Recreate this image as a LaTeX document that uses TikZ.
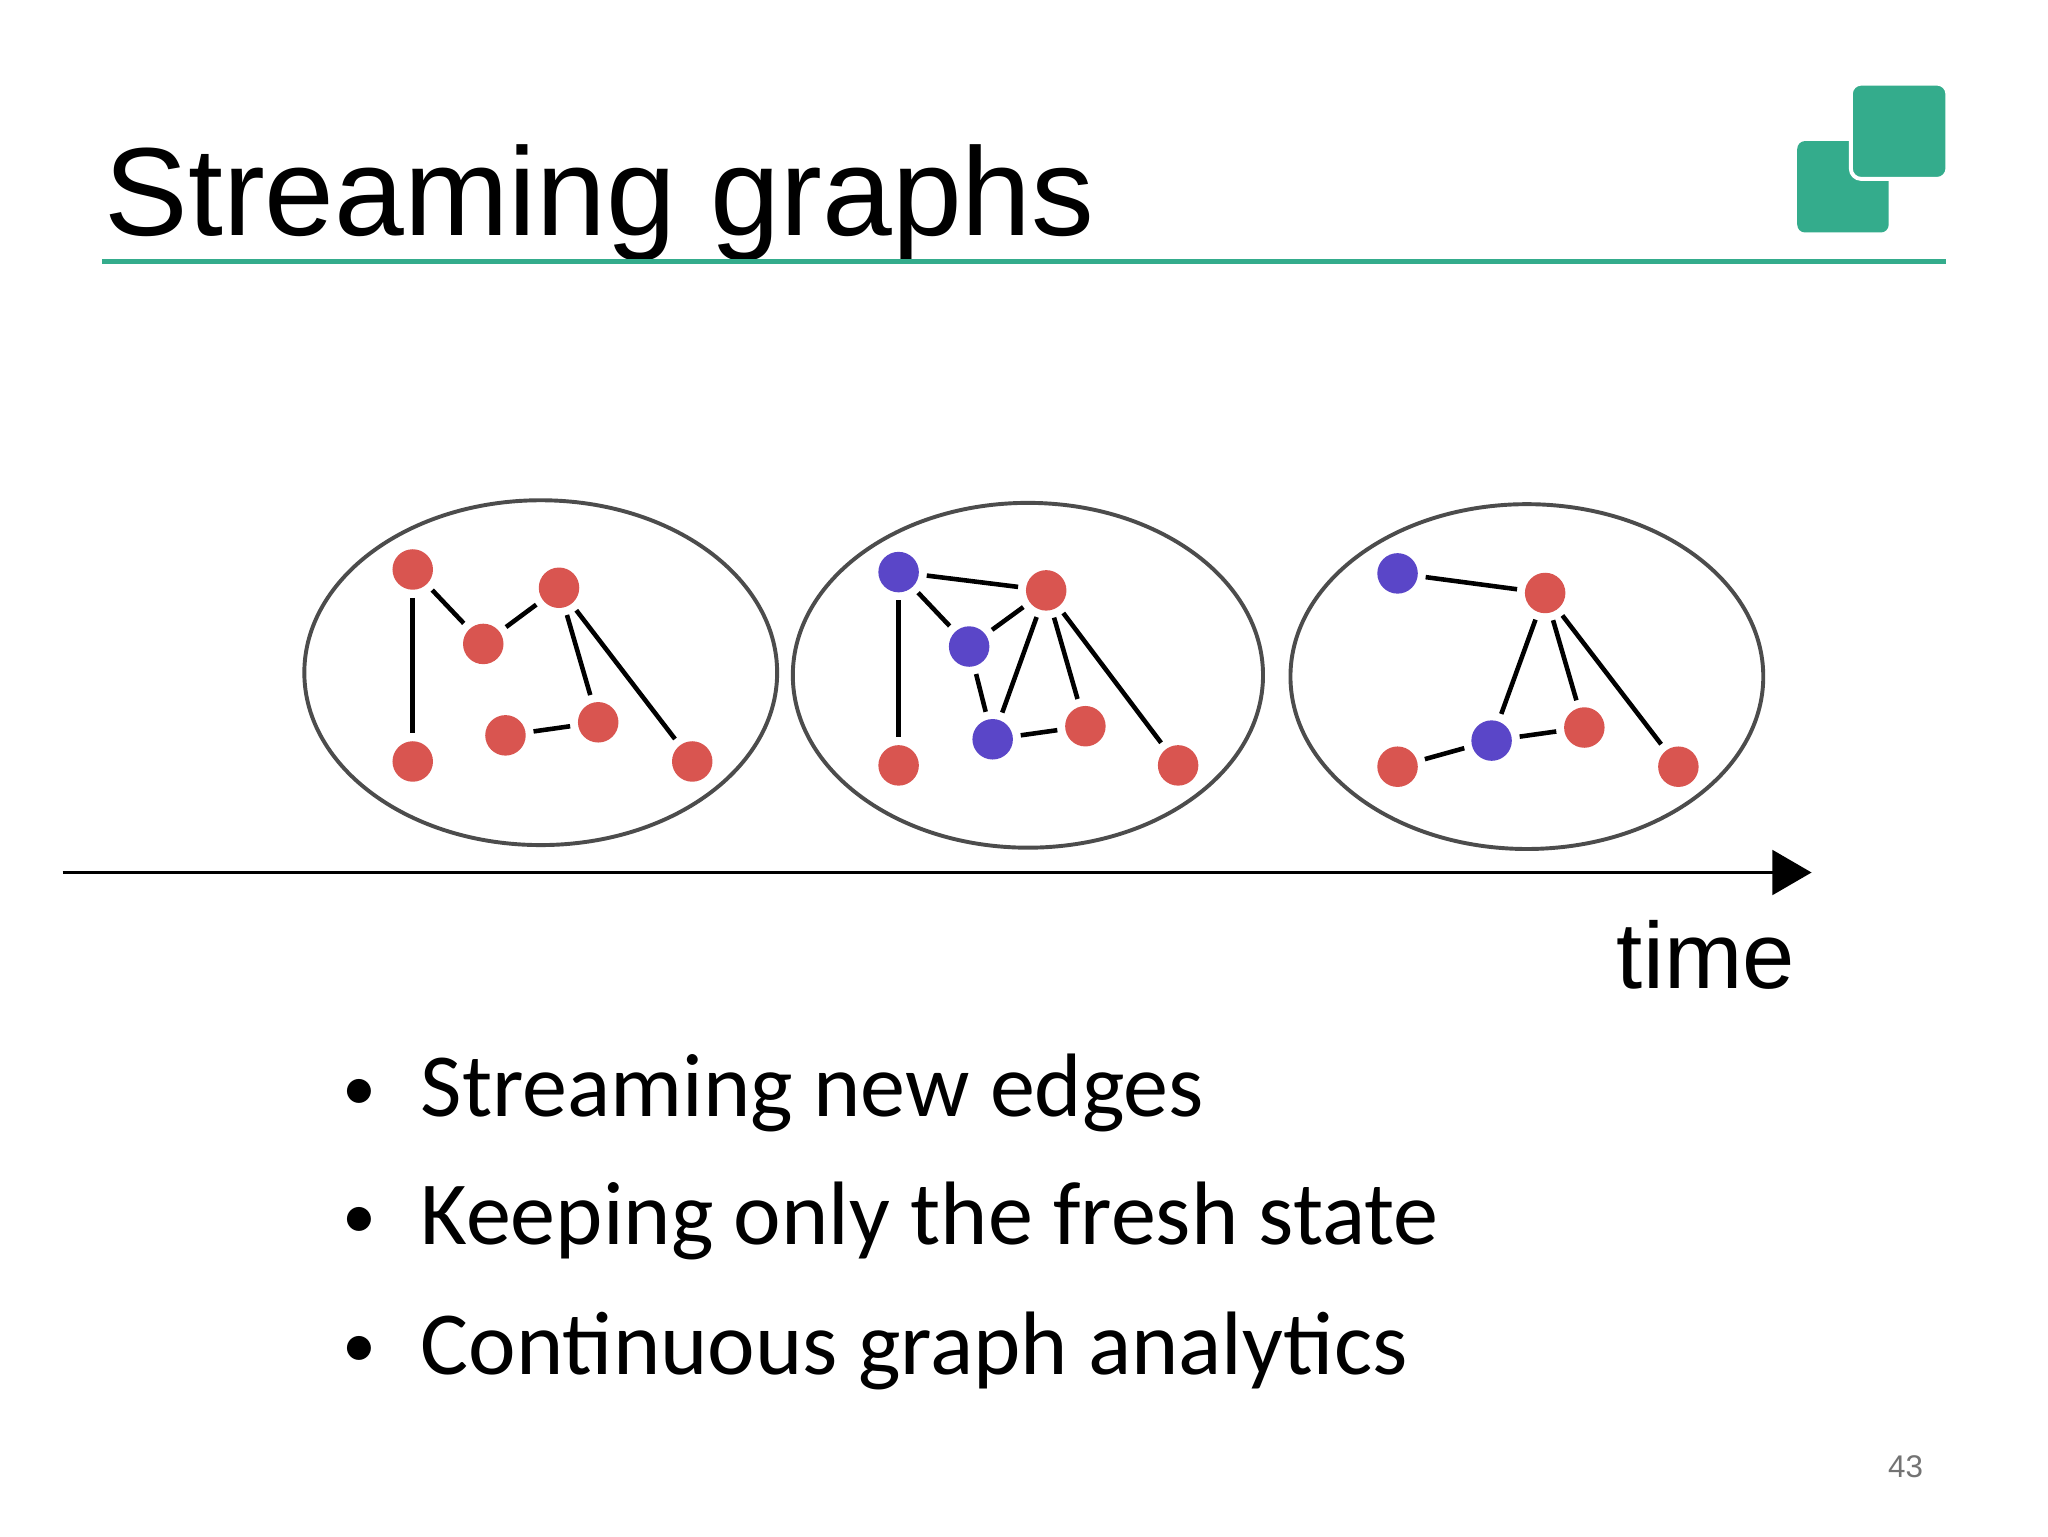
\documentclass[tikz,border=0pt]{standalone}
\usepackage{fontspec}
\setmainfont{Liberation Sans}
\newfontfamily\carfont{Carlito}
\usetikzlibrary{arrows.meta}
\definecolor{teal1}{RGB}{52,172,140}
\definecolor{nred}{RGB}{217,85,80}
\definecolor{nblue}{RGB}{90,70,200}
\tikzset{
 rn/.style={circle,fill=nred,minimum size=31pt,inner sep=0pt},
 bn/.style={circle,fill=nblue,minimum size=31pt,inner sep=0pt},
 ed/.style={line width=3.5pt,shorten >=6pt,shorten <=6pt},
 ell/.style={draw=black!70,line width=3pt,fill=white},
}
\begin{document}
\begin{tikzpicture}[x=1pt,y=-1pt]
\useasboundingbox[fill=white] (0,0) rectangle (1568,1176);
\node[anchor=base west,inner sep=0pt,font=\fontsize{96}{106}\selectfont] (title) at (80,180) {Streaming graphs};
\draw[teal1,line width=3.5pt] (78,200) -- (1490,200);
\fill[teal1,rounded corners=6pt] (1376,108) rectangle (1446,178);
\filldraw[teal1,draw=white,line width=3pt,rounded corners=8pt] (1417,64) rectangle (1491,137);
% ellipses
\draw[ell] (414,515) ellipse [x radius=181,y radius=132];
\draw[ell] (787,517) ellipse [x radius=180,y radius=132];
\draw[ell] (1169,518) ellipse [x radius=181,y radius=132];
% graph 1
\node[rn] (a1) at (316,436) {}; \node[rn] (b1) at (370,493) {};
\node[rn] (c1) at (428,450) {}; \node[rn] (d1) at (316,583) {};
\node[rn] (e1) at (387,563) {}; \node[rn] (f1) at (458,553) {};
\node[rn] (g1) at (530,583) {};
\draw[ed] (a1)--(d1); \draw[ed] (a1)--(b1); \draw[ed] (b1)--(c1);
\draw[ed] (c1)--(f1); \draw[ed] (c1)--(g1); \draw[ed] (e1)--(f1);
% graph 2
\node[bn] (a2) at (688,438) {}; \node[rn] (b2) at (801,452) {};
\node[bn] (c2) at (742,495) {}; \node[rn] (d2) at (688,586) {};
\node[bn] (e2) at (760,566) {}; \node[rn] (f2) at (831,556) {};
\node[rn] (g2) at (902,586) {};
\draw[ed] (a2)--(b2); \draw[ed] (a2)--(c2); \draw[ed] (a2)--(d2);
\draw[ed] (c2)--(b2); \draw[ed] (c2)--(e2); \draw[ed] (e2)--(b2);
\draw[ed] (b2)--(f2); \draw[ed] (b2)--(g2); \draw[ed] (e2)--(f2);
% graph 3
\node[bn] (a3) at (1070,439) {}; \node[rn] (b3) at (1183,454) {};
\node[bn] (e3) at (1142,567) {}; \node[rn] (f3) at (1213,557) {};
\node[rn] (g3) at (1285,587) {}; \node[rn] (h3) at (1070,587) {};
\draw[ed] (a3)--(b3); \draw[ed] (b3)--(e3); \draw[ed] (b3)--(f3);
\draw[ed] (b3)--(g3); \draw[ed] (e3)--(f3); \draw[ed] (h3)--(e3);
% axis
\coordinate (t0) at (48,668); \coordinate (t1) at (1387,668);
\draw[line width=3pt,-{Triangle[length=30pt,width=34pt]}] (t0)--(t1);
\node[anchor=base,inner sep=0pt,font=\fontsize{72}{80}\selectfont] (time) at (1306,757) {time};
% bullets
\begin{scope}[every node/.style={anchor=base west,inner sep=0pt,font=\carfont\fontsize{69}{76}\selectfont}]
\node[font=\carfont\fontsize{52}{60}\selectfont] (l1) at (262,850) {•}; \node (t1b) at (322,855) {Streaming new edges};
\node[font=\carfont\fontsize{52}{60}\selectfont] (l2) at (262,948) {•}; \node (t2b) at (322,953) {Keeping only the fresh state};
\node[font=\carfont\fontsize{52}{60}\selectfont] (l3) at (262,1047) {•}; \node (t3b) at (322,1052) {Continuous graph analytics};
\end{scope}
\node[anchor=base,inner sep=0pt,text=black!55,font=\fontsize{24}{28}\selectfont] (pg) at (1459,1131) {43};
\end{tikzpicture}
\end{document}
